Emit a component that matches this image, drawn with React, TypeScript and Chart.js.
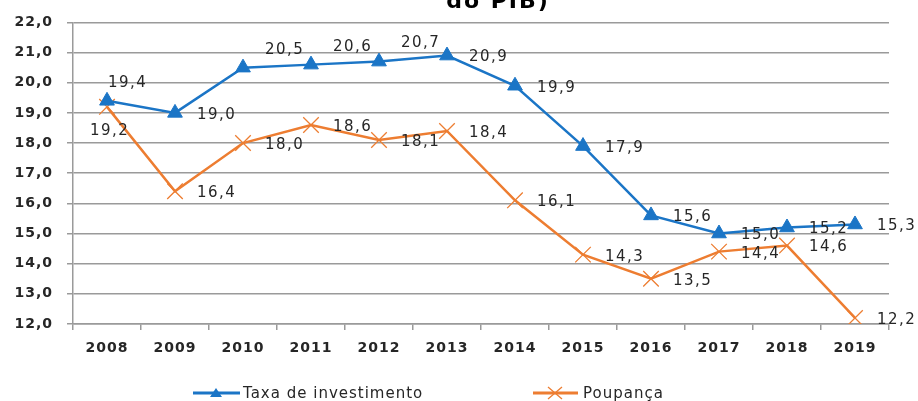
import React, { useEffect, useRef } from 'react';
import { Chart, registerables } from 'chart.js';

Chart.register(...registerables);

// ---- data ----
const years = ['2008', '2009', '2010', '2011', '2012', '2013', '2014', '2015', '2016', '2017', '2018', '2019'];
const taxaInvestimento = [19.4, 19.0, 20.5, 20.6, 20.7, 20.9, 19.9, 17.9, 15.6, 15.0, 15.2, 15.3];
const poupanca = [19.2, 16.4, 18.0, 18.6, 18.1, 18.4, 16.1, 14.3, 13.5, 14.4, 14.6, 12.2];
const seriesNames = ['Taxa de investimento', 'Poupança'];
const yMin = 12;
const yMax = 22;
const yStep = 1;
const titleTail = 'do PIB)';

// ---- styles ----
const BLUE = '#1B75C6';
const ORANGE = '#ED7D31';
const TEXT = '#262626';
const GRID = '#9a9a9a';

// label placement keywords per series (style, not data)
const labelPlacement: string[][] = [
  ['A', 'R', 'AR', 'AR', 'AR', 'R', 'R', 'R', 'R', 'R', 'R', 'R'],
  ['BL', 'R', 'R', 'R', 'R', 'R', 'R', 'R', 'R', 'R', 'R', 'R'],
];
const placementOffsets: Record<string, { dx: number; dy: number }> = {
  A: { dx: 1, dy: -18 },
  AR: { dx: 22, dy: -18 },
  R: { dx: 22, dy: 2 },
  BL: { dx: -17, dy: 24 },
};

const fmt = (v: number) => v.toFixed(1).replace('.', ',');

const spacingPlugin = {
  id: 'spacing',
  beforeUpdate(chart: any) {
    chart.ctx.letterSpacing = '1px';
  },
  beforeDraw(chart: any) {
    chart.ctx.letterSpacing = '1px';
  },
};

const labelPlugin = {
  id: 'valueLabels',
  afterDatasetsDraw(chart: any) {
    const ctx = chart.ctx;
    ctx.save();
    ctx.font = '15px "DejaVu Sans"';
    ctx.letterSpacing = '1.5px';
    ctx.fillStyle = TEXT;
    ctx.textAlign = 'left';
    ctx.textBaseline = 'middle';
    chart.data.datasets.forEach((ds: any, di: number) => {
      const meta = chart.getDatasetMeta(di);
      meta.data.forEach((pt: any, i: number) => {
        const off = placementOffsets[labelPlacement[di][i]];
        ctx.fillText(fmt(ds.data[i]), pt.x + off.dx, pt.y + off.dy);
      });
    });
    ctx.restore();
  },
};

const decorPlugin = {
  id: 'decor',
  afterDraw(chart: any) {
    const ctx = chart.ctx;
    ctx.save();
    // title (only its last line is visible)
    ctx.font = 'bold 22px "DejaVu Sans"';
    ctx.letterSpacing = '2px';
    ctx.fillStyle = '#000';
    ctx.textAlign = 'center';
    ctx.textBaseline = 'alphabetic';
    ctx.fillText(titleTail, 498, 8);

    // legend
    const ly = 393;
    ctx.lineWidth = 3;
    // series 1
    ctx.strokeStyle = BLUE;
    ctx.beginPath();
    ctx.moveTo(193, ly);
    ctx.lineTo(240, ly);
    ctx.stroke();
    ctx.fillStyle = BLUE;
    ctx.beginPath();
    ctx.moveTo(216, ly - 5);
    ctx.lineTo(222, ly + 4);
    ctx.lineTo(210, ly + 4);
    ctx.closePath();
    ctx.fill();
    // series 2
    ctx.strokeStyle = ORANGE;
    ctx.beginPath();
    ctx.moveTo(533, ly);
    ctx.lineTo(578, ly);
    ctx.stroke();
    ctx.lineWidth = 1.3;
    ctx.beginPath();
    ctx.moveTo(548, ly - 6);
    ctx.lineTo(562, ly + 6);
    ctx.moveTo(562, ly - 6);
    ctx.lineTo(548, ly + 6);
    ctx.stroke();

    ctx.font = '15px "DejaVu Sans"';
    ctx.letterSpacing = '1px';
    ctx.fillStyle = TEXT;
    ctx.textAlign = 'left';
    ctx.textBaseline = 'middle';
    ctx.fillText(seriesNames[0], 243, ly + 1);
    ctx.fillText(seriesNames[1], 583, ly + 1);
    ctx.restore();
  },
};

export default function App() {
  const canvasRef = useRef<HTMLCanvasElement | null>(null);

  useEffect(() => {
    const canvas = canvasRef.current;
    if (!canvas) return;
    const tickFont = { family: 'DejaVu Sans', size: 14, weight: 'bold' as const };
    const chart = new Chart(canvas, {
      type: 'line',
      data: {
        labels: years,
        datasets: [
          {
            label: seriesNames[0],
            data: taxaInvestimento,
            borderColor: BLUE,
            backgroundColor: BLUE,
            borderWidth: 2.5,
            pointStyle: 'triangle',
            pointRadius: 8.5,
            pointBorderWidth: 1,
            pointBackgroundColor: BLUE,
            pointBorderColor: BLUE,
            tension: 0,
          },
          {
            label: seriesNames[1],
            data: poupanca,
            borderColor: ORANGE,
            backgroundColor: ORANGE,
            borderWidth: 2.5,
            pointStyle: 'crossRot',
            pointRadius: 11,
            pointBorderWidth: 1.3,
            pointBorderColor: ORANGE,
            tension: 0,
          },
        ],
      },
      options: {
        responsive: false,
        animation: false,
        devicePixelRatio: 1,
        layout: { padding: { top: 21, right: 29, left: 0, bottom: 0 } },
        plugins: {
          legend: { display: false },
          title: { display: false },
          tooltip: { enabled: false },
        },
        scales: {
          x: {
            type: 'category',
            offset: true,
            grid: {
              display: true,
              drawOnChartArea: false,
              drawTicks: true,
              tickLength: 6,
              color: GRID,
              lineWidth: 1.5,
              offset: true,
            },
            border: { display: true, color: GRID, width: 1.5 },
            ticks: { font: tickFont, color: TEXT, padding: 10, maxRotation: 0, autoSkip: false },
            afterFit: (scale: any) => {
              scale.height = 77;
            },
          },
          y: {
            min: yMin,
            max: yMax,
            grid: { color: GRID, lineWidth: 1.5, tickLength: 6, drawTicks: true },
            border: { display: true, color: GRID, width: 1.5 },
            ticks: {
              stepSize: yStep,
              font: tickFont,
              color: TEXT,
              padding: 14,
              callback: (v: any) => fmt(Number(v)),
            },
            afterFit: (scale: any) => {
              scale.width = 73;
            },
          },
        },
      },
      plugins: [spacingPlugin, labelPlugin, decorPlugin],
    });
    return () => chart.destroy();
  }, []);

  return (
    <div style={{ position: 'fixed', left: 0, top: 0, width: 918, height: 401, overflow: 'hidden', background: '#fff' }}>
      <canvas ref={canvasRef} width={918} height={401} style={{ width: 918, height: 401, display: 'block' }} />
    </div>
  );
}
